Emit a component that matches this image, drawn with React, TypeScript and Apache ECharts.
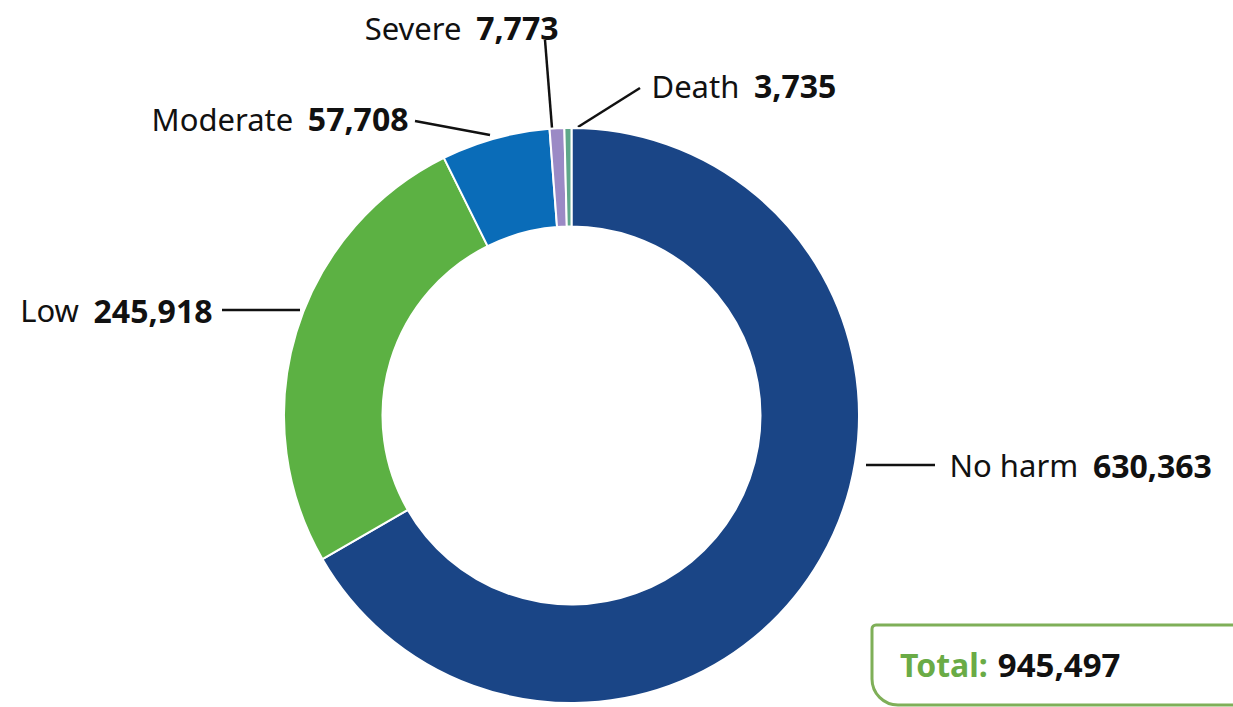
import React, { useEffect, useRef } from "react";
import * as echarts from "echarts";

const categories = ["No harm", "Low", "Moderate", "Severe", "Death"];
const values = [630363, 245918, 57708, 7773, 3735];
const colors = ["#1a4586", "#5cb143", "#0a6cb8", "#9b8ac5", "#5fa88a"];

const CX = 571.5;
const CY = 415.5;
const FONT = "'Noto Sans', 'DejaVu Sans', sans-serif";

// label guide layout relative to the donut centre: [start, end], label anchor, align
const guides: { p0: number[]; p1: number[]; lx: number; ly: number; align: string }[] = [
  { p0: [294.5, 49.5], p1: [363.5, 49.5], lx: 378, ly: 49.5, align: "left" },
  { p0: [-271.5, -105.5], p1: [-349.5, -105.5], lx: -359, ly: -105.5, align: "right" },
  { p0: [-81.5, -280.5], p1: [-156.5, -294.5], lx: -163, ly: -297, align: "right" },
  { p0: [-19.5, -287.5], p1: [-26.5, -375.5], lx: -13, ly: -388, align: "right" },
  { p0: [6.5, -288.5], p1: [68.5, -327.5], lx: 80, ly: -330, align: "left" },
];

const fmt = (v: number) => v.toLocaleString("en-US");

export default function App() {
  const ref = useRef<HTMLDivElement>(null);
  useEffect(() => {
    if (!ref.current) return;
    const chart = echarts.init(ref.current, null, { renderer: "svg" });
    const total = values.reduce((a, b) => a + b, 0);
    chart.setOption({
      animation: false,
      backgroundColor: "#ffffff",
      series: [
        {
          type: "pie",
          center: [CX, CY],
          radius: [189, 287.5],
          startAngle: 90,
          clockwise: true,
          avoidLabelOverlap: false,
          itemStyle: { borderColor: "#ffffff", borderWidth: 2 },
          label: {
            show: true,
            position: "outside",
            formatter: (p: any) => `{n|${p.name}}  {v|${fmt(p.value)}}`,
            rich: {
              n: { fontFamily: FONT, fontSize: 31, color: "#111111" },
              v: { fontFamily: FONT, fontSize: 32, fontWeight: "bold", color: "#111111", padding: [0, 0, 0, 8] },
            },
          },
          labelLine: { show: true, lineStyle: { color: "#111111", width: 2.5 }, length: 20, length2: 20 },
          labelLayout: (params: any) => {
            const g = guides[params.dataIndex];
            const a = [CX + g.p0[0], CY + g.p0[1]];
            const b = [CX + g.p1[0], CY + g.p1[1]];
            return {
              x: CX + g.lx,
              y: CY + g.ly,
              align: g.align,
              verticalAlign: "middle",
              labelLinePoints: [a, b, b],
            };
          },
          data: categories.map((c, i) => ({ name: c, value: values[i], itemStyle: { color: colors[i] } })),
        },
      ],
      graphic: [
        {
          type: "rect",
          shape: { x: 872, y: 625, width: 420, height: 80, r: [4, 0, 0, 26] },
          style: { fill: "#ffffff", stroke: "#7faf58", lineWidth: 3 },
          z: 10,
        },
        {
          type: "text",
          x: 900,
          y: 664,
          z: 11,
          style: {
            text: `{t|Total:}{v|${fmt(total)}}`,
            verticalAlign: "middle",
            rich: {
              t: { fontFamily: FONT, fontSize: 32, fontWeight: "bold", fill: "#6aab46" },
              v: { fontFamily: FONT, fontSize: 33, fontWeight: "bold", fill: "#111111", padding: [0, 0, 0, 10] },
            },
          },
        },
      ],
    });
    return () => chart.dispose();
  }, []);
  return (
    <div
      ref={ref}
      style={{ position: "fixed", left: 0, top: 0, width: 1233, height: 707 }}
    />
  );
}
